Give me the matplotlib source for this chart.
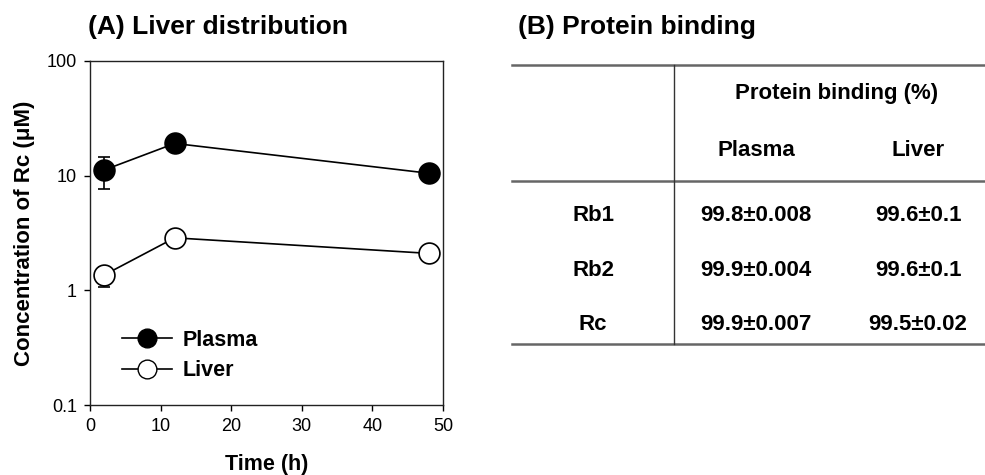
import matplotlib
matplotlib.use("Agg")
import matplotlib.pyplot as plt
from matplotlib.lines import Line2D

plt.rcParams['font.family'] = ['Liberation Sans', 'DejaVu Sans']

time_h = [2, 12, 48]
plasma = [11.2, 19.1, 10.5]
plasma_err_low = [3.6, 0.0, 0.0]
plasma_err_high = [3.4, 0.0, 0.0]
liver = [1.36, 2.87, 2.1]
liver_err_low = [0.29, 0.0, 0.0]
liver_err_high = [0.25, 0.0, 0.0]

xticks = [0, 10, 20, 30, 40, 50]
yticks = [0.1, 1, 10, 100]
yticklabels = ['0.1', '1', '10', '100']

tbl_rows = ['Rb1', 'Rb2', 'Rc']
tbl_plasma = ['99.8\u00b10.008', '99.9\u00b10.004', '99.9\u00b10.007']
tbl_liver = ['99.6\u00b10.1', '99.6\u00b10.1', '99.5\u00b10.02']

H = 475.0
W = 985.0
def fy(py):
    return 1 - py / H
def fx(px):
    return px / W

fig = plt.figure(figsize=(9.85, 4.75), dpi=100)
ax = fig.add_axes([fx(90), fy(405), (443 - 90) / W, (405 - 61) / H])

ms = 15
ax.errorbar(time_h, plasma, yerr=[plasma_err_low, plasma_err_high], color='black',
            marker='o', markersize=ms, markerfacecolor='black', markeredgecolor='black',
            markeredgewidth=1.2, lw=1.2, capsize=4, elinewidth=1.2, capthick=1.2, zorder=3)
ax.errorbar(time_h, liver, yerr=[liver_err_low, liver_err_high], color='black',
            marker='o', markersize=ms, markerfacecolor='white', markeredgecolor='black',
            markeredgewidth=1.2, lw=1.2, capsize=4, elinewidth=1.2, capthick=1.2, zorder=3)

ax.set_yscale('log')
ax.set_xlim(0, 50)
ax.set_ylim(0.1, 100)
ax.set_xticks(xticks)
ax.set_xticklabels([str(t) for t in xticks])
ax.set_yticks(yticks)
ax.set_yticklabels(yticklabels)
ax.yaxis.set_minor_locator(matplotlib.ticker.NullLocator())
ax.tick_params(axis='both', direction='out', length=4.5, width=1, labelsize=13, pad=5)
for s in ax.spines.values():
    s.set_linewidth(1)
    s.set_color('#222222')
ax.set_xlabel('Time (h)', fontsize=15.5, fontweight='bold', labelpad=13.5)
ax.set_ylabel('Concentration of Rc (\u03bcM)', fontsize=16, fontweight='bold', labelpad=8)

leg_handles = [
    Line2D([], [], color='black', lw=1.2, marker='o', markersize=13.5, markerfacecolor='black', markeredgecolor='black'),
    Line2D([], [], color='black', lw=1.2, marker='o', markersize=13.5, markerfacecolor='white', markeredgecolor='black'),
]
leg = ax.legend(leg_handles, ['Plasma', 'Liver'], loc='upper left',
                bbox_to_anchor=(fx(122), fy(330)), bbox_transform=fig.transFigure,
                frameon=False, borderpad=0, borderaxespad=0,
                prop={'weight': 'bold', 'size': 15.5}, handlelength=2.3, handletextpad=0.5,
                labelspacing=0.42)

fig.text(fx(88), fy(27), '(A) Liver distribution', fontsize=19, fontweight='bold', ha='left', va='center')
fig.text(fx(518), fy(27), '(B) Protein binding', fontsize=19, fontweight='bold', ha='left', va='center')

for py in (65, 181, 344):
    fig.add_artist(Line2D([fx(512), fx(985)], [fy(py), fy(py)], color='#666666', lw=1.8))
fig.add_artist(Line2D([fx(674), fx(674)], [fy(65), fy(344)], color='#333333', lw=1))

fs = 16
fig.text(fx(837), fy(93), 'Protein binding (%)', fontsize=fs, fontweight='bold', ha='center', va='center')
fig.text(fx(756), fy(150), 'Plasma', fontsize=fs, fontweight='bold', ha='center', va='center')
fig.text(fx(918), fy(150), 'Liver', fontsize=fs, fontweight='bold', ha='center', va='center')
row_y = [215, 270, 324]
for r, p, l, y in zip(tbl_rows, tbl_plasma, tbl_liver, row_y):
    fig.text(fx(593), fy(y), r, fontsize=fs, fontweight='bold', ha='center', va='center')
    fig.text(fx(756), fy(y), p, fontsize=fs, fontweight='bold', ha='center', va='center')
    fig.text(fx(918), fy(y), l, fontsize=fs, fontweight='bold', ha='center', va='center')

fig.savefig('out.png', dpi=100)
